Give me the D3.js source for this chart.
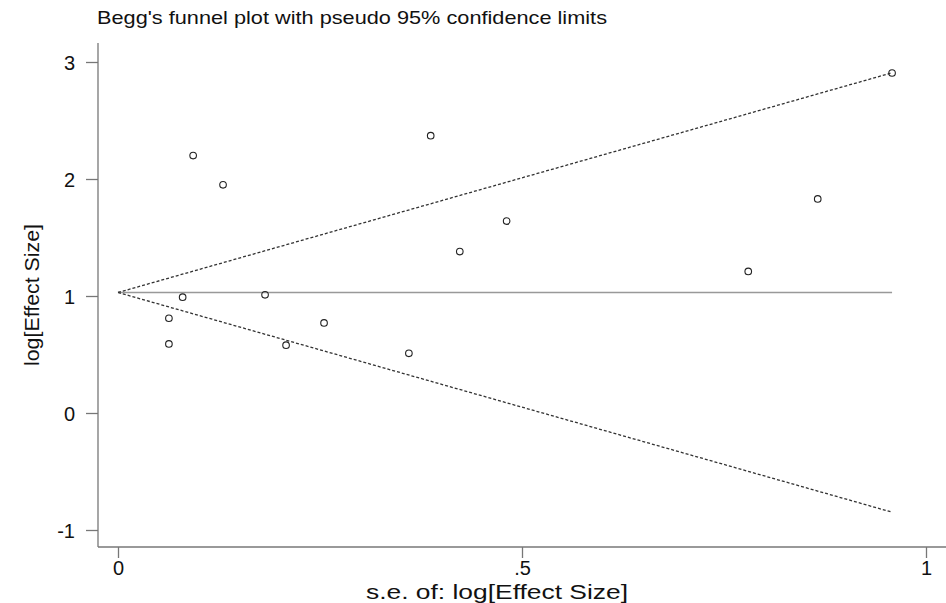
<!DOCTYPE html>
<html>
<head>
<meta charset="utf-8">
<script src="https://cdn.jsdelivr.net/npm/d3@7"></script>
<style>
  body { margin: 0; background: #fff; }
  svg { display: block; font-family: "Liberation Sans", Arial, sans-serif; }
</style>
</head>
<body>
<svg id="chart" width="946" height="603"></svg>
<script>
// study points: standard error and log effect size
const seValues = [0.093, 0.130, 0.063, 0.063, 0.080, 0.182, 0.208, 0.255, 0.360, 0.387, 0.423, 0.481, 0.780, 0.866, 0.958];
const esValues = [2.20, 1.95, 0.81, 0.59, 0.99, 1.01, 0.58, 0.77, 0.51, 2.37, 1.38, 1.64, 1.21, 1.83, 2.906];
const pooled = 1.03;
const xTicks = [0, 0.5, 1];
const xTickLabels = ["0", ".5", "1"];
const yTicks = [-1, 0, 1, 2, 3];

const svg = d3.select("#chart");

// scales picked so ticks land where the reference puts them
const x = d3.scaleLinear().domain([0, 1]).range([118, 926]);
const y = d3.scaleLinear().domain([-1, 3]).range([530, 62]);

const maxSe = d3.max(seValues);

// axes
const xAxis = d3.axisBottom(x).tickValues(xTicks).tickFormat((d, i) => xTickLabels[i]).tickSize(11).tickSizeOuter(0);
const yAxis = d3.axisLeft(y).tickValues(yTicks).tickFormat(d3.format("d")).tickSize(12).tickSizeOuter(0);

const gx = svg.append("g").attr("transform", "translate(0,547)").call(xAxis);
gx.select(".domain").attr("d", "M98,0H946");
const gy = svg.append("g").attr("transform", "translate(98,0)").call(yAxis);
gy.select(".domain").attr("d", "M0,43V547");

svg.selectAll(".domain, .tick line").attr("stroke", "#777").attr("stroke-width", 1.3);
gx.selectAll(".tick text").attr("font-size", 20).attr("fill", "#111").attr("dy", "0.72em");
gy.selectAll(".tick text").attr("font-size", 20).attr("fill", "#111").attr("x", -23).attr("dy", "0.35em")
  .text(d => d < 0 ? "-" + Math.abs(d) : d);
svg.selectAll(".tick text").attr("font-family", "Liberation Sans, Arial, sans-serif");

// pooled estimate line
svg.append("line")
  .attr("x1", x(0)).attr("x2", x(maxSe))
  .attr("y1", y(pooled)).attr("y2", y(pooled))
  .attr("stroke", "#999").attr("stroke-width", 1.3);

// pseudo 95% confidence limits
const limits = [1.96, -1.96];
limits.forEach(z => {
  svg.append("line")
    .attr("x1", x(0)).attr("y1", y(pooled))
    .attr("x2", x(maxSe)).attr("y2", y(pooled + z * maxSe))
    .attr("stroke", "#333").attr("stroke-width", 1.3)
    .attr("stroke-dasharray", "3,2");
});

// study markers
svg.selectAll("circle.pt")
  .data(seValues)
  .enter().append("circle")
  .attr("class", "pt")
  .attr("cx", d => x(d))
  .attr("cy", (d, i) => y(esValues[i]))
  .attr("r", 3.3)
  .attr("fill", "none")
  .attr("stroke", "#222")
  .attr("stroke-width", 1.1);

// titles
svg.append("text")
  .attr("x", 97).attr("y", 24)
  .attr("font-size", 19).attr("fill", "#111")
  .attr("textLength", 510).attr("lengthAdjust", "spacingAndGlyphs")
  .text("Begg's funnel plot with pseudo 95% confidence limits");

svg.append("text")
  .attr("transform", "translate(39,295) rotate(-90)")
  .attr("text-anchor", "middle")
  .attr("font-size", 20).attr("fill", "#111")
  .attr("textLength", 142).attr("lengthAdjust", "spacingAndGlyphs")
  .text("log[Effect Size]");

svg.append("text")
  .attr("x", 497).attr("y", 599)
  .attr("text-anchor", "middle")
  .attr("font-size", 20).attr("fill", "#111")
  .attr("textLength", 262).attr("lengthAdjust", "spacingAndGlyphs")
  .text("s.e. of: log[Effect Size]");
</script>
</body>
</html>
